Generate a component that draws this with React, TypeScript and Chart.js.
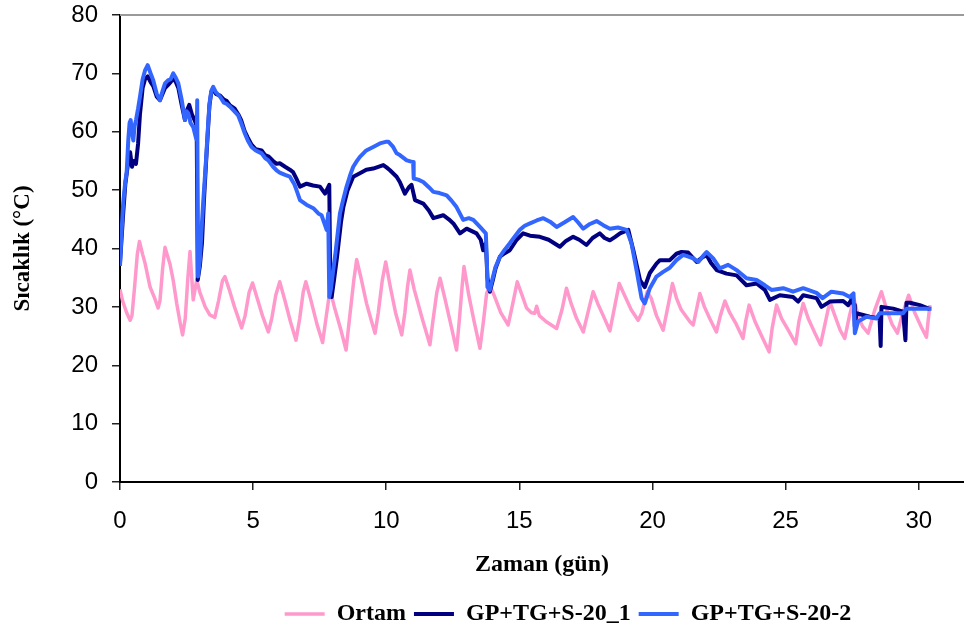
import { useEffect, useRef } from "react";
import { Chart, registerables } from "chart.js";

Chart.register(...registerables);

// Series labels
const seriesNames = ["Ortam", "GP+TG+S-20_1", "GP+TG+S-20-2"];

// Ambient temperature: [day, °C]
const ortam: [number, number][] = [
  [0, 33.0], [0.1, 31.0], [0.25, 29.0], [0.38, 27.7], [0.45, 28.5], [0.55, 33.5], [0.65, 39.0], [0.73, 41.2],
  [0.85, 39.0], [0.94, 37.5], [1.13, 33.4], [1.3, 31.5], [1.43, 29.8], [1.5, 31.0], [1.6, 36.5], [1.69, 40.2],
  [1.8, 38.5], [1.88, 37.3], [2.0, 34.5], [2.13, 30.6], [2.25, 27.5], [2.35, 25.2], [2.45, 28.0], [2.55, 35.0],
  [2.63, 39.5], [2.75, 31.2], [2.88, 34.6], [3.0, 32.5], [3.2, 30.0], [3.38, 28.6], [3.56, 28.2], [3.7, 31.0],
  [3.85, 34.5], [3.94, 35.2], [4.1, 33.0], [4.3, 30.0], [4.57, 26.4], [4.7, 28.5], [4.85, 32.5], [4.98, 34.1],
  [5.15, 31.5], [5.35, 28.5], [5.57, 25.7], [5.7, 28.0], [5.85, 32.0], [6.0, 34.3], [6.2, 31.0], [6.4, 27.5],
  [6.61, 24.3], [6.75, 28.0], [6.88, 32.5], [6.98, 34.3], [7.15, 31.5], [7.4, 27.0], [7.61, 23.9], [7.75, 28.5],
  [7.89, 33.0], [8.05, 30.0], [8.3, 26.0], [8.49, 22.6], [8.62, 28.0], [8.78, 34.5], [8.89, 38.1], [9.05, 35.0],
  [9.26, 30.6], [9.45, 27.5], [9.58, 25.5], [9.7, 29.0], [9.85, 34.5], [9.98, 37.7], [10.15, 33.5], [10.35, 29.0],
  [10.58, 25.2], [10.7, 29.0], [10.8, 33.5], [10.89, 36.3], [11.05, 33.0], [11.35, 28.0], [11.64, 23.5], [11.75, 27.5],
  [11.9, 32.5], [12.02, 34.9], [12.2, 31.5], [12.45, 26.5], [12.64, 22.6], [12.75, 28.0], [12.85, 33.5], [12.92, 36.9],
  [13.1, 32.0], [13.3, 27.5], [13.52, 22.9], [13.65, 27.5], [13.77, 32.3], [13.89, 33.7], [14.05, 32.0], [14.3, 29.0],
  [14.58, 26.9], [14.75, 30.5], [14.92, 34.3], [15.1, 32.0], [15.27, 29.8], [15.45, 29.0], [15.58, 28.9], [15.65, 30.1],
  [15.75, 28.5], [16.0, 27.5], [16.4, 26.3], [16.6, 29.5], [16.77, 33.2], [16.95, 30.5], [17.15, 28.0], [17.4, 25.7],
  [17.6, 29.5], [17.77, 32.6], [17.95, 30.5], [18.15, 28.5], [18.4, 25.9], [18.6, 30.5], [18.75, 34.0], [18.95, 32.0],
  [19.2, 29.5], [19.46, 27.7], [19.6, 29.0], [19.8, 32.6], [19.95, 31.5], [20.15, 28.5], [20.4, 26.0], [20.6, 30.5],
  [20.75, 34.0], [20.9, 31.5], [21.08, 29.5], [21.4, 27.5], [21.53, 26.9], [21.65, 29.5], [21.78, 32.3], [21.95, 30.0],
  [22.15, 28.0], [22.4, 25.7], [22.55, 28.5], [22.72, 31.0], [22.9, 29.0], [23.15, 27.0], [23.4, 24.6], [23.5, 27.5],
  [23.63, 30.3], [23.85, 27.5], [24.1, 25.0], [24.38, 22.3], [24.5, 26.5], [24.66, 30.3], [24.85, 28.0], [25.1, 26.0],
  [25.38, 23.7], [25.5, 27.5], [25.66, 30.6], [25.85, 28.0], [26.1, 25.5], [26.31, 23.5], [26.5, 27.5], [26.66, 30.9],
  [26.85, 28.5], [27.05, 26.0], [27.22, 24.6], [27.4, 28.5], [27.56, 31.5], [27.75, 28.0], [27.9, 26.6], [28.1, 25.5],
  [28.35, 29.5], [28.6, 32.6], [28.8, 29.5], [29.0, 27.0], [29.2, 25.5], [29.4, 29.0], [29.62, 32.0], [29.85, 29.0],
  [30.1, 26.5], [30.29, 24.8], [30.35, 27.5], [30.42, 30.3],
];

// Sample 1: [day, °C]
const sample1: [number, number][] = [
  [0, 37.5], [0.05, 41.0], [0.12, 46.0], [0.2, 51.0], [0.3, 54.5], [0.38, 56.5], [0.45, 54.0], [0.52, 55.0],
  [0.6, 54.5], [0.68, 58.0], [0.75, 63.0], [0.85, 67.5], [0.94, 69.0], [1.04, 69.5], [1.15, 68.5], [1.25, 67.8],
  [1.38, 66.0], [1.5, 65.4], [1.6, 66.5], [1.69, 67.5], [1.8, 68.0], [1.9, 68.5], [2.0, 69.2], [2.1, 68.5],
  [2.19, 67.5], [2.32, 64.5], [2.44, 62.0], [2.5, 63.5], [2.6, 64.6], [2.7, 63.0], [2.8, 62.0], [2.88, 61.0],
  [2.92, 34.6], [3.0, 37.0], [3.08, 41.0], [3.15, 48.0], [3.23, 54.5], [3.3, 60.0], [3.36, 64.5], [3.43, 66.8],
  [3.5, 67.3], [3.6, 66.5], [3.76, 66.2], [3.9, 65.5], [4.0, 65.3], [4.13, 64.5], [4.3, 64.0], [4.44, 63.0],
  [4.55, 62.0], [4.69, 60.0], [4.8, 59.0], [4.94, 57.8], [5.1, 57.0], [5.32, 56.8], [5.45, 56.0], [5.57, 55.8],
  [5.75, 55.0], [5.88, 54.5], [6.0, 54.6], [6.2, 54.0], [6.38, 53.5], [6.5, 53.1], [6.62, 52.0], [6.76, 50.6],
  [7.01, 51.1], [7.25, 50.8], [7.51, 50.6], [7.7, 49.4], [7.86, 50.9], [7.9, 33.0], [7.95, 31.7], [8.05, 35.0],
  [8.15, 38.5], [8.3, 44.5], [8.39, 47.1], [8.55, 50.0], [8.76, 52.3], [9.01, 52.9], [9.25, 53.5], [9.51, 53.7],
  [9.7, 54.0], [9.89, 54.3], [10.01, 53.9], [10.14, 53.4], [10.39, 52.3], [10.51, 51.4], [10.7, 49.4], [10.85, 50.5],
  [10.95, 50.9], [11.08, 48.3], [11.39, 47.7], [11.6, 46.5], [11.77, 45.2], [12.14, 45.7], [12.35, 45.0], [12.52, 44.3],
  [12.77, 42.6], [13.02, 43.4], [13.39, 42.6], [13.55, 41.5], [13.64, 39.7], [13.74, 40.9], [13.8, 35.0], [13.89, 32.6],
  [14.0, 34.5], [14.1, 36.5], [14.27, 38.6], [14.45, 39.2], [14.64, 39.7], [14.9, 41.5], [15.14, 42.6], [15.4, 42.2],
  [15.77, 42.0], [16.1, 41.5], [16.52, 40.3], [16.75, 41.3], [17.02, 42.0], [17.25, 41.5], [17.52, 40.6], [17.75, 41.8],
  [18.02, 42.6], [18.2, 41.8], [18.4, 41.4], [18.6, 42.0], [18.78, 42.6], [19.09, 43.2], [19.28, 39.7], [19.53, 34.6],
  [19.71, 33.4], [19.9, 35.8], [20.15, 37.4], [20.28, 38.0], [20.53, 38.0], [20.65, 38.0], [20.9, 39.1], [21.09, 39.4],
  [21.34, 39.3], [21.5, 38.5], [21.66, 37.7], [21.85, 38.4], [22.03, 38.9], [22.2, 37.5], [22.41, 36.3], [22.78, 35.7],
  [23.16, 35.4], [23.53, 33.7], [23.91, 34.0], [24.22, 32.9], [24.41, 31.2], [24.78, 32.0], [25.28, 31.7], [25.47, 30.9],
  [25.66, 32.0], [26.16, 31.5], [26.35, 30.0], [26.66, 30.9], [27.16, 31.0], [27.35, 30.3], [27.47, 31.2], [27.57, 30.3],
  [27.6, 26.6], [27.66, 28.9], [27.91, 28.6], [28.16, 28.3], [28.53, 28.0], [28.57, 23.3], [28.6, 30.0], [29.04, 29.7],
  [29.41, 29.2], [29.5, 24.3], [29.54, 30.7], [29.67, 30.7], [30.04, 30.3], [30.42, 29.6],
];

// Sample 2: [day, °C]
const sample2: [number, number][] = [
  [0, 37.0], [0.05, 42.0], [0.12, 47.8], [0.2, 51.5], [0.25, 53.0], [0.31, 58.5], [0.36, 61.5], [0.4, 62.0],
  [0.45, 60.0], [0.5, 58.5], [0.55, 61.0], [0.6, 62.0], [0.68, 64.0], [0.75, 66.0], [0.85, 69.0], [0.94, 70.5],
  [1.04, 71.4], [1.15, 70.0], [1.25, 68.8], [1.38, 66.5], [1.5, 65.4], [1.6, 67.0], [1.69, 68.3], [1.8, 68.8],
  [1.9, 69.0], [2.0, 70.0], [2.1, 69.2], [2.19, 68.3], [2.32, 65.4], [2.44, 62.0], [2.5, 63.5], [2.57, 63.1],
  [2.65, 61.5], [2.75, 60.8], [2.85, 59.0], [2.88, 58.6], [2.9, 65.4], [2.93, 35.2], [3.0, 38.0], [3.06, 43.0],
  [3.13, 48.3], [3.23, 55.1], [3.3, 60.5], [3.36, 64.8], [3.43, 67.0], [3.5, 67.7], [3.6, 66.8], [3.76, 66.0],
  [3.9, 65.0], [4.0, 64.8], [4.13, 64.3], [4.3, 63.5], [4.44, 62.8], [4.55, 61.5], [4.69, 59.7], [4.8, 58.5],
  [4.94, 57.4], [5.1, 56.8], [5.32, 56.3], [5.45, 55.5], [5.57, 55.1], [5.75, 54.0], [5.88, 53.4], [6.0, 53.0],
  [6.2, 52.6], [6.38, 52.3], [6.55, 51.0], [6.63, 50.0], [6.76, 48.3], [7.0, 47.5], [7.26, 46.9], [7.45, 46.0],
  [7.57, 45.7], [7.7, 44.0], [7.76, 43.2], [7.82, 46.0], [7.86, 31.7], [7.92, 33.0], [8.0, 36.0], [8.1, 39.5],
  [8.26, 46.0], [8.39, 48.5], [8.51, 50.6], [8.64, 52.5], [8.76, 54.0], [8.9, 55.0], [9.01, 55.7], [9.25, 56.8],
  [9.51, 57.4], [9.76, 58.0], [10.01, 58.3], [10.08, 58.3], [10.26, 57.4], [10.39, 56.3], [10.51, 56.0], [10.77, 55.1],
  [11.01, 54.8], [11.03, 52.0], [11.2, 51.8], [11.39, 51.4], [11.6, 50.5], [11.77, 49.7], [12.0, 49.5], [12.27, 49.1],
  [12.45, 48.2], [12.64, 47.1], [12.89, 44.9], [13.1, 45.2], [13.27, 44.9], [13.52, 43.7], [13.74, 42.6], [13.78, 38.0],
  [13.8, 33.4], [13.89, 32.9], [14.0, 35.0], [14.1, 36.8], [14.27, 38.6], [14.45, 39.8], [14.64, 40.9], [14.85, 42.2],
  [15.02, 43.2], [15.2, 43.9], [15.4, 44.3], [15.65, 44.8], [15.9, 45.2], [16.15, 44.6], [16.4, 43.7], [16.7, 44.5],
  [17.02, 45.4], [17.2, 44.5], [17.4, 43.4], [17.65, 44.2], [17.9, 44.7], [18.15, 44.0], [18.4, 43.4], [18.7, 43.6],
  [19.03, 43.2], [19.21, 40.9], [19.4, 36.3], [19.59, 31.5], [19.71, 30.6], [19.9, 33.2], [20.15, 35.2], [20.4, 36.0],
  [20.65, 36.7], [20.9, 38.0], [21.15, 38.9], [21.35, 38.6], [21.53, 38.3], [21.72, 37.7], [21.88, 38.6], [22.03, 39.4],
  [22.28, 38.3], [22.53, 36.6], [22.84, 37.2], [23.16, 36.3], [23.35, 35.6], [23.53, 34.9], [23.91, 34.6], [24.22, 33.7],
  [24.47, 32.9], [24.91, 33.2], [25.28, 32.6], [25.66, 33.2], [26.16, 32.4], [26.39, 31.5], [26.72, 32.6], [27.16, 32.3],
  [27.41, 31.7], [27.55, 32.3], [27.6, 25.5], [27.72, 27.5], [28.04, 28.3], [28.41, 28.0], [28.53, 28.9], [28.91, 28.9],
  [29.41, 28.9], [29.54, 29.7], [29.91, 29.7], [30.48, 29.7],
];

const seriesData = [ortam, sample1, sample2];
const seriesColors = ["#FF99CC", "#000080", "#3366FF"];
const seriesWidths = [3.5, 4, 4];

const X_MAX = 31.7;
const Y_MAX = 80;

const SANS = '"Liberation Sans", Arial, sans-serif';
const SERIF = '"Liberation Serif", "Times New Roman", serif';

// Grey frame line along the top of the plot area
const topFrame = {
  id: "topFrame",
  afterDraw(chart: any) {
    const { ctx, chartArea } = chart;
    ctx.save();
    ctx.strokeStyle = "#9a9a9a";
    ctx.lineWidth = 2;
    ctx.beginPath();
    ctx.moveTo(chartArea.left, chartArea.top);
    ctx.lineTo(chartArea.right, chartArea.top);
    ctx.stroke();
    ctx.restore();
  },
};

// Nudges the legend row right and down
const legendOffset = {
  id: "legendOffset",
  afterLayout(chart: any) {
    const lg = chart.legend;
    if (!lg) return;
    const dx = 86;
    const dy = 4;
    lg.left += dx;
    lg.right += dx;
    lg.top += dy;
    lg.bottom += dy;
  },
};

export default function App() {
  const canvasRef = useRef<HTMLCanvasElement | null>(null);

  useEffect(() => {
    if (!canvasRef.current) return;
    const chart = new Chart(canvasRef.current, {
      type: "line",
      data: {
        datasets: seriesNames.map((name, i) => ({
          label: name,
          data: seriesData[i].map(([x, y]) => ({ x, y })),
          borderColor: seriesColors[i],
          backgroundColor: seriesColors[i],
          borderWidth: seriesWidths[i],
          pointRadius: 0,
          tension: 0,
          fill: false,
          borderJoinStyle: "round" as const,
          order: 3 - i,
        })),
      },
      options: {
        responsive: false,
        animation: false,
        devicePixelRatio: 1,
        layout: { padding: { top: 15, right: 0, left: 0, bottom: 0 } },
        plugins: {
          tooltip: { enabled: false },
          legend: {
            position: "bottom",
            labels: {
              usePointStyle: true,
              pointStyle: "line",
              pointStyleWidth: 40,
              padding: 8,
              color: "#000",
              font: { family: SERIF, size: 24, weight: "bold" },
              sort: (a: any, b: any) => a.datasetIndex - b.datasetIndex,
            },
          },
        },
        scales: {
          x: {
            type: "linear",
            min: 0,
            max: X_MAX,
            afterFit: (s: any) => {
              s.height = 108;
            },
            border: { color: "#000", width: 2 },
            grid: { drawOnChartArea: false, drawTicks: true, tickLength: 8, color: "#222", lineWidth: 1.5 },
            ticks: {
              stepSize: 5,
              includeBounds: false,
              padding: 17,
              color: "#000",
              font: { family: SANS, size: 24 },
              maxRotation: 0,
            },
            title: {
              display: true,
              text: "Zaman (gün)",
              color: "#000",
              font: { family: SERIF, size: 24, weight: "bold" },
              padding: { top: 0, bottom: 11 },
            },
          },
          y: {
            type: "linear",
            min: 0,
            max: Y_MAX,
            afterFit: (s: any) => {
              s.width = 120;
              s.paddingTop = 0;
              s.paddingBottom = 0;
            },
            border: { color: "#000", width: 2 },
            grid: { drawOnChartArea: false, drawTicks: true, tickLength: 8, color: "#222", lineWidth: 1.5 },
            ticks: {
              stepSize: 10,
              padding: 14,
              color: "#000",
              font: { family: SANS, size: 24 },
            },
            title: {
              display: true,
              text: "Sıcaklık (°C)",
              color: "#000",
              font: { family: SERIF, size: 23, weight: "bold" },
              padding: { top: 9, bottom: 0 },
            },
          },
        },
      },
      plugins: [topFrame, legendOffset],
    });
    return () => chart.destroy();
  }, []);

  return (
    <div style={{ position: "absolute", left: 0, top: 0, width: 964, height: 632, background: "#fff" }}>
      <canvas ref={canvasRef} width={964} height={632} />
    </div>
  );
}
